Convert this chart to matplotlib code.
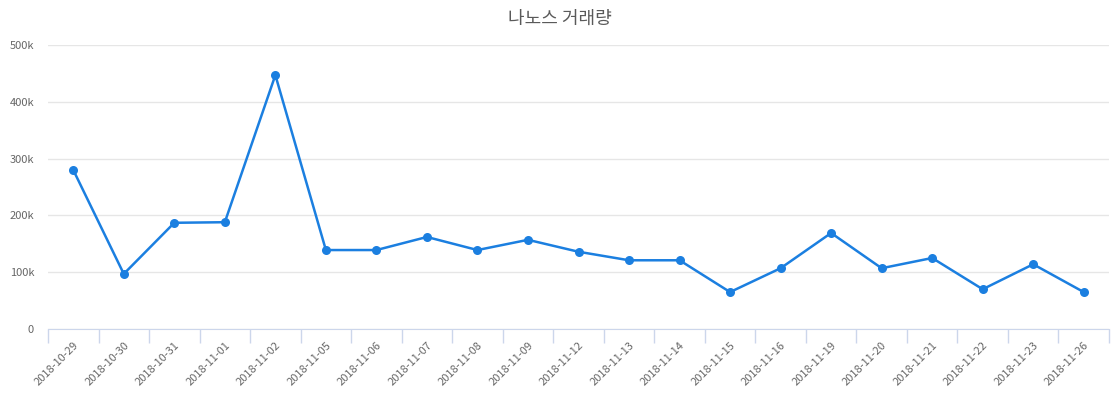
import numpy as np
import matplotlib.pyplot as plt
from matplotlib.ticker import FixedLocator, FuncFormatter

# data
dates = ['2018-10-29', '2018-10-30', '2018-10-31', '2018-11-01', '2018-11-02',
         '2018-11-05', '2018-11-06', '2018-11-07', '2018-11-08', '2018-11-09',
         '2018-11-12', '2018-11-13', '2018-11-14', '2018-11-15', '2018-11-16',
         '2018-11-19', '2018-11-20', '2018-11-21', '2018-11-22', '2018-11-23',
         '2018-11-26']
volume = [280000, 97000, 187000, 188000, 447000,
          139000, 139000, 162000, 139000, 157000,
          136000, 121000, 121000, 65000, 107000,
          169000, 107000, 125000, 70000, 114000,
          65000]
y_ticks = [0, 100000, 200000, 300000, 400000, 500000]

plt.rcParams['font.family'] = ['Noto Sans CJK KR', 'DejaVu Sans']

fig = plt.figure(figsize=(11.2, 4.0), dpi=100)
ax = fig.add_axes([48 / 1120, 1 - 329 / 400, (1109 - 48) / 1120, (329 - 45) / 400])

x = np.arange(len(dates))
ax.plot(x, volume, color='#1b7fe0', linewidth=1.8, marker='o', markersize=6.5,
        markeredgewidth=0, zorder=3, clip_on=False)

ax.set_xlim(-0.5, len(dates) - 0.5)
ax.set_ylim(0, 500000)

# y axis: gridlines only
ax.yaxis.set_major_locator(FixedLocator(y_ticks))
ax.yaxis.set_major_formatter(FuncFormatter(lambda v, p: '0' if v == 0 else f'{int(v / 1000)}k'))
ax.grid(axis='y', color='#e6e6e6', linewidth=1)
ax.set_axisbelow(True)
ax.tick_params(axis='y', length=0, pad=10, labelsize=8, labelcolor='#666666')

# x axis: category boundaries get ticks, labels centred on categories
ax.set_xticks(x)
ax.set_xticklabels(dates, rotation=45, ha='right', rotation_mode='anchor')
ax.tick_params(axis='x', length=0, pad=8, labelsize=8, labelcolor='#666666')
ax.set_xticks(np.arange(len(dates) + 1) - 0.5, minor=True)
ax.tick_params(axis='x', which='minor', length=10, width=1, color='#ccd6eb')

for side in ['top', 'right', 'left']:
    ax.spines[side].set_visible(False)
ax.spines['bottom'].set_color('#ccd6eb')

fig.suptitle('나노스 거래량', x=0.5, y=0.975, fontsize=13, color='#5a5a5a')

fig.savefig('out.png', dpi=100, facecolor='white')
